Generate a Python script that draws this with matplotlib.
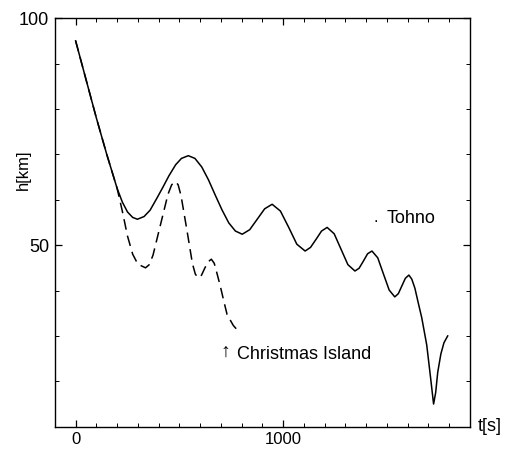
import matplotlib
matplotlib.use('Agg')
import matplotlib.pyplot as plt
from matplotlib.ticker import MultipleLocator

plt.rcParams['font.family'] = ['Liberation Sans', 'DejaVu Sans']

# Tohno curve
tohno_t = [0, 50, 100, 150, 200, 225, 250, 275, 298, 330, 359, 390, 420, 450,
           482, 510, 543, 575, 608, 640, 673, 705, 738, 770, 803, 839, 875,
           911, 947, 987, 1027, 1066, 1106, 1132, 1159, 1185, 1212, 1246, 1279,
           1312, 1346, 1366, 1387, 1407, 1428, 1456, 1483, 1511, 1538, 1555,
           1572, 1589, 1606, 1620, 1635, 1650, 1668, 1692, 1710, 1725, 1735,
           1745, 1760, 1775, 1793]
tohno_h = [95, 86.5, 78, 70, 62.5, 59.5, 57.3, 56.1, 55.7, 56.3, 57.7, 60.2, 62.7,
           65.3, 67.7, 69.1, 69.7, 69.1, 67.2, 64.4, 61.0, 57.8, 54.9, 53.1, 52.4,
           53.4, 55.7, 58.0, 59.0, 57.5, 53.9, 50.2, 48.7, 49.5, 51.3, 53.1, 53.9,
           52.5, 49.1, 45.7, 44.3, 44.9, 46.5, 48.1, 48.7, 47.2, 43.7, 40.1, 38.6,
           39.3, 41.0, 42.7, 43.4, 42.5, 40.5, 37.5, 34, 28, 21, 15, 17.5,
           22, 26, 28.5, 30]

# Christmas Island curve
xmas_t = [0, 50, 100, 150, 200, 225, 250, 275, 300, 337, 355, 373, 409, 445,
          463, 481, 494, 508, 536, 563, 577, 591, 607, 622, 638, 654, 668,
          680, 697, 715, 730, 760, 785]
xmas_h = [95, 86.5, 78, 70, 62.5, 57.5, 52, 48, 45.8, 45, 45.7, 47.8, 54.5, 61.2,
          63.3, 64, 63.3, 60.9, 53.4, 45.9, 43.6, 42.8, 43.4, 44.9, 46.3, 46.9, 46,
          44, 41, 37.5, 34.7, 32.3, 31]

fig = plt.figure(figsize=(5.08, 4.53), dpi=100)
ax = fig.add_axes([0.108, 0.058, 0.817, 0.902])

ax.plot(tohno_t, tohno_h, color='black', lw=1.1)
ax.plot(xmas_t, xmas_h, color='black', lw=1.1, dashes=(7, 4))

ax.set_xlim(-100, 1900)
ax.set_ylim(10, 100)
ax.set_xticks([0, 1000])
ax.set_yticks([50, 100])
ax.xaxis.set_minor_locator(MultipleLocator(100))
ax.yaxis.set_minor_locator(MultipleLocator(10))
ax.tick_params(which='both', direction='in', top=True, right=True, labelsize=13)
ax.tick_params(which='major', length=5, width=0.9)
ax.tick_params(which='minor', length=3, width=0.7)
ax.tick_params(axis='x', pad=4, labelsize=12)
ax.tick_params(axis='y', pad=4)
for s in ax.spines.values():
    s.set_linewidth(1.0)

ax.text(-0.075, 0.63, 'h[km]', transform=ax.transAxes, rotation=90,
        ha='center', va='center', fontsize=12)
ax.text(1.019, 0.0, 't[s]', transform=ax.transAxes, ha='left', va='center',
        fontsize=13)

ax.text(1447, 54.4, '.', ha='center', va='bottom', fontsize=12)
ax.text(1500, 55.9, 'Tohno', ha='left', va='center', fontsize=13)
ax.text(721, 26.3, '↑', ha='center', va='center', fontsize=14)
ax.text(779, 26, 'Christmas Island', ha='left', va='center', fontsize=13)

fig.savefig('out.png', dpi=100)
